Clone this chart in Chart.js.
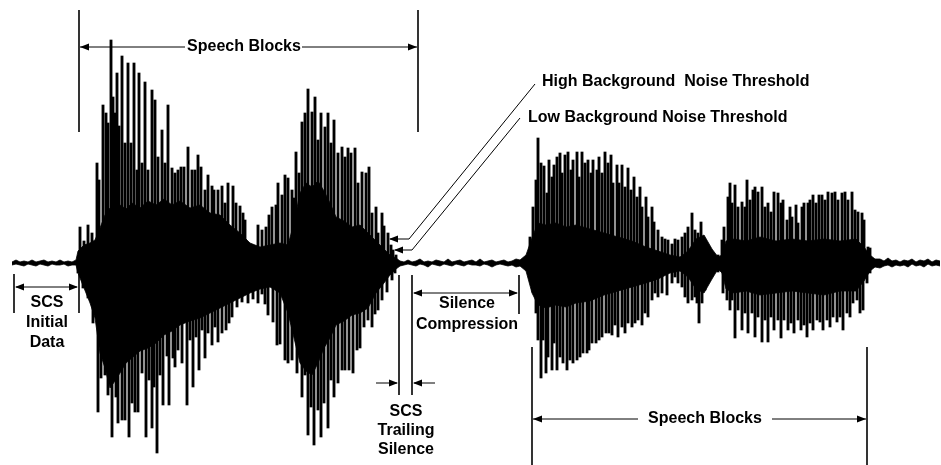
<!DOCTYPE html>
<html lang="en">
<head>
  <meta charset="UTF-8">
  <title>Speech Blocks and Silence Compression</title>
  <script src="https://cdn.jsdelivr.net/npm/chart.js"></script>
  <style>
    html,body{width:941px;height:465px;margin:0;padding:0;overflow:hidden;background:#fff}
    #wrap{width:941px;height:465px;position:relative}
  </style>
</head>
<body>
<div id="wrap"><canvas id="wave" width="941" height="465"></canvas></div>
<script>
// amplitudes are measured up from the zero line of the waveform
const BASE = 263;

// upward peaks of the first speech burst [position, amplitude]
const upLeft = [[80,36],[84,22],[88,38],[92,30],[97,100],[99,83],[103,158],[106,150],[108,140],[111,223],[113,166],[115,150],[117,190],[119,137],[122,207],[125,120],[128,200],[131,120],[134,200],[137,93],[139,190],[142,100],[145,181],[148,93],[152,173],[155,163],[158,106],[162,133],[165,100],[168,158],[172,95],[175,90],[178,93],[181,96],[184,96],[188,116],[192,93],[195,93],[198,108],[201,96],[205,73],[208,88],[212,77],[214,73],[218,73],[222,77],[225,60],[228,80],[233,77],[236,60],[240,57],[243,50],[245,43],[248,20],[252,18],[255,17],[258,38],[262,33],[266,36],[269,48],[272,56],[276,58],[278,80],[282,68],[285,88],[288,85],[292,73],[294,65],[296,111],[299,90],[302,141],[305,150],[308,174],[312,151],[315,166],[318,123],[321,150],[325,136],[328,150],[331,120],[334,143],[338,110],[342,116],[345,106],[348,115],[351,110],[355,115],[358,80],[362,91],[366,90],[369,96],[372,50],[376,56],[378,30],[382,50],[384,37],[388,30],[391,18],[393,13],[396,8]];
// downward peaks of the first speech burst
const downLeft = [[78,-10],[83,-25],[88,-35],[93,-60],[98,-149],[101,-115],[105,-112],[108,-132],[112,-174],[116,-134],[118,-160],[122,-157],[125,-157],[129,-174],[132,-140],[135,-149],[138,-149],[142,-110],[146,-174],[149,-117],[152,-165],[154,-124],[157,-190],[160,-112],[163,-142],[167,-93],[169,-142],[173,-95],[175,-104],[178,-87],[182,-100],[187,-142],[190,-77],[193,-124],[196,-74],[199,-107],[202,-67],[205,-95],[208,-70],[212,-82],[215,-64],[218,-79],[222,-70],[226,-67],[229,-60],[232,-54],[237,-44],[242,-39],[246,-31],[248,-40],[253,-36],[258,-40],[262,-31],[265,-41],[268,-52],[273,-59],[277,-82],[280,-81],[285,-97],[288,-100],[292,-97],[297,-110],[302,-134],[305,-112],[308,-172],[311,-144],[314,-182],[318,-147],[321,-174],[324,-140],[328,-165],[331,-117],[334,-134],[338,-120],[342,-107],[345,-107],[349,-107],[353,-110],[357,-87],[360,-85],[364,-64],[368,-57],[372,-64],[375,-51],[378,-47],[382,-37],[387,-29],[392,-17],[395,-10]];
// upward peaks of the second speech burst
const upRight = [[530,26],[533,56],[536,83],[538,125],[541,100],[544,97],[547,70],[549,103],[552,86],[554,98],[557,106],[560,110],[562,90],[565,108],[568,111],[571,93],[573,103],[577,111],[579,86],[582,111],[585,100],[588,103],[591,90],[593,103],[597,93],[599,106],[602,90],[605,111],[608,100],[611,108],[613,80],[617,98],[619,80],[622,98],[625,76],[628,95],[631,73],[634,86],[637,66],[640,76],[642,56],[646,66],[648,46],[652,56],[654,41],[658,33],[662,26],[665,24],[668,23],[672,19],[675,24],[678,23],[682,26],[685,30],[688,36],[692,50],[695,33],[698,30],[701,41],[704,23],[708,16],[713,10],[718,8],[722,23],[724,36],[728,66],[730,80],[732,60],[735,78],[738,56],[742,61],[745,56],[747,83],[750,63],[753,73],[755,76],[758,71],[762,76],[765,56],[768,60],[771,51],[774,71],[778,70],[781,60],[783,63],[787,43],[790,56],[792,46],[796,58],[798,40],[802,56],[804,60],[808,60],[810,63],[813,68],[816,60],[819,68],[822,68],[825,63],[828,71],[832,70],[835,71],[838,63],[842,70],[845,71],[848,63],[852,71],[855,53],[858,51],[862,50],[864,43],[868,16],[870,15]];
// downward peaks of the second speech burst
const downRight = [[530,-7],[533,-29],[536,-50],[538,-77],[541,-115],[543,-77],[546,-110],[548,-94],[552,-107],[554,-80],[557,-107],[560,-94],[563,-100],[567,-107],[570,-97],[573,-100],[577,-97],[580,-94],[583,-90],[587,-90],[589,-87],[592,-80],[596,-80],[599,-77],[602,-74],[606,-70],[609,-70],[612,-72],[615,-62],[618,-74],[622,-64],[625,-70],[628,-60],[632,-64],[635,-60],[638,-57],[642,-62],[645,-50],[648,-54],[652,-37],[655,-30],[658,-34],[662,-30],[667,-32],[672,-20],[675,-14],[678,-20],[682,-24],[685,-34],[688,-40],[692,-37],[695,-34],[697,-40],[699,-60],[702,-40],[705,-27],[708,-14],[713,-10],[718,-9],[723,-30],[727,-37],[730,-47],[732,-37],[735,-75],[738,-47],[742,-67],[745,-50],[748,-70],[752,-50],[755,-74],[758,-54],[762,-79],[765,-57],[768,-79],[771,-54],[774,-67],[778,-57],[781,-75],[784,-57],[788,-67],[791,-60],[794,-70],[798,-57],[801,-67],[804,-62],[807,-74],[810,-60],[813,-67],[817,-57],[820,-59],[823,-67],[827,-57],[830,-64],[833,-54],[837,-59],[840,-54],[843,-67],[847,-50],[850,-54],[853,-40],[857,-37],[860,-50],[863,-47],[867,-20],[870,-10]];

// dense inner part of the signal, segment by segment [position, top, bottom]
const noiseStart = [[12,1,-2],[16,3,-1],[20,1,-2],[24,2,-3],[28,1,-1],[32,3,-2],[36,1,-3],[40,2,-1],[44,3,-2],[48,1,-3],[52,2,-1],[56,1,-2],[60,3,-2],[64,1,-1],[68,2,-3],[72,1,-2],[76,3,-2]];
const coreLeft = [[78,12,-10],[84,18,-25],[90,20,-40],[95,23,-55],[100,35,-90],[105,48,-105],[110,55,-125],[115,52,-118],[120,58,-110],[126,54,-100],[132,60,-95],[140,55,-88],[148,62,-85],[156,58,-80],[164,64,-72],[172,58,-68],[180,62,-62],[190,55,-58],[200,58,-55],[210,50,-50],[220,48,-45],[230,38,-40],[240,30,-35],[250,20,-30],[260,16,-26],[270,18,-24],[280,20,-30],[288,18,-50],[294,40,-75],[300,70,-100],[306,80,-108],[312,76,-112],[318,82,-100],[324,72,-85],[330,60,-75],[336,46,-62],[344,42,-58],[352,36,-52],[360,38,-50],[368,30,-45],[376,22,-30],[384,14,-20],[390,8,-12],[396,5,-6]];
const noiseMid = [[400,2,-3],[404,1,-2],[408,3,-1],[412,1,-2],[416,2,-3],[420,4,-1],[424,1,-2],[428,2,-4],[432,1,-1],[436,3,-2],[440,2,-3],[444,1,-1],[448,4,-2],[452,1,-3],[456,2,-1],[460,3,-2],[464,1,-3],[468,2,-1],[472,3,-2],[476,1,-2],[480,4,-3],[484,1,-1],[488,2,-2],[492,3,-4],[496,1,-2],[500,2,-1],[504,3,-2],[508,1,-3],[512,2,-2],[516,4,-4]];
const coreRight = [[520,3,-3],[526,8,-8],[532,25,-30],[538,40,-42],[546,38,-45],[556,40,-42],[566,36,-44],[576,38,-40],[590,34,-38],[604,30,-32],[618,26,-28],[632,22,-24],[646,16,-20],[658,12,-16],[670,8,-10],[680,6,-8],[688,12,-14],[696,24,-26],[704,28,-30],[712,14,-16],[718,6,-6],[722,8,-10],[726,22,-26],[734,24,-30],[746,22,-28],[760,26,-32],[776,22,-30],[792,24,-28],[808,22,-30],[824,24,-32],[840,22,-28],[856,24,-28],[864,16,-18],[870,8,-8],[875,4,-4]];
const noiseEnd = [[880,4,-5],[884,2,-3],[888,5,-2],[892,2,-4],[896,3,-2],[900,1,-3],[904,3,-2],[908,2,-4],[912,4,-1],[916,1,-3],[920,3,-2],[924,2,-4],[928,4,-1],[932,1,-3],[936,3,-2],[940,2,-3]];

const core = noiseStart.concat(coreLeft, noiseMid, coreRight, noiseEnd);
const pt = arr => arr.map(([x, v]) => ({x: x, y: [0, v]}));

// bracket, arrow and label drawing
const labels = {
  id: 'labels',
  afterDatasetsDraw(chart) {
    const {ctx, scales: {x, y}} = chart;
    const X = v => x.getPixelForValue(v);
    const Y = v => y.getPixelForValue(BASE - v);
    ctx.save();
    ctx.strokeStyle = '#000';
    ctx.fillStyle = '#000';
    const line = (pts, w) => {
      ctx.lineWidth = w || 1;
      ctx.beginPath();
      pts.forEach(([a, b], i) => i ? ctx.lineTo(X(a), Y(b)) : ctx.moveTo(X(a), Y(b)));
      ctx.stroke();
    };
    const head = (a, b, dir) => { // dir 1 = pointing right, -1 = left
      ctx.beginPath();
      ctx.moveTo(X(a), Y(b));
      ctx.lineTo(X(a) - dir * 9, Y(b) - 3.5);
      ctx.lineTo(X(a) - dir * 9, Y(b) + 3.5);
      ctx.closePath();
      ctx.fill();
    };
    const text = (s, a, b, align) => {
      ctx.textAlign = align || 'center';
      ctx.textBaseline = 'middle';
      ctx.fillText(s, X(a), Y(b));
    };
    ctx.font = 'bold 16px "Liberation Sans", Arial, sans-serif';

    // top speech blocks
    line([[79, 10], [79, 132]], 1.6);
    line([[418, 10], [418, 132]], 1.6);
    line([[80, 47], [185, 47]]);
    line([[302, 47], [417, 47]]);
    head(80, 47, -1); head(417, 47, 1);
    text('Speech Blocks', 244, 47);

    // noise thresholds
    line([[535, 84], [409, 239], [390, 239]]);
    head(389, 239, -1);
    line([[520, 118], [412, 250], [395, 250]]);
    head(394, 250, -1);
    text('High Background  Noise Threshold', 542, 82, 'left');
    text('Low Background Noise Threshold', 528, 118, 'left');

    // SCS initial data
    line([[14, 274], [14, 313]], 1.6);
    line([[79, 274], [79, 313]], 1.6);
    line([[16, 287], [77, 287]]);
    head(15, 287, -1); head(78, 287, 1);
    text('SCS', 47, 303); text('Initial', 47, 323); text('Data', 47, 343);

    // silence compression
    line([[519, 275], [519, 314]], 1.6);
    line([[414, 293], [517, 293]]);
    head(413, 293, -1); head(518, 293, 1);
    text('Silence', 467, 304); text('Compression', 467, 325);

    // SCS trailing silence
    line([[399, 275], [399, 395]], 1.6);
    line([[412, 275], [412, 395]], 1.6);
    line([[376, 383], [397, 383]]); head(398, 383, 1);
    line([[414, 383], [435, 383]]); head(413, 383, -1);
    text('SCS', 406, 412); text('Trailing', 406, 431); text('Silence', 406, 450);

    // bottom speech blocks
    line([[532, 347], [532, 465]], 1.6);
    line([[867, 347], [867, 465]], 1.6);
    line([[533, 419], [638, 419]]);
    line([[772, 419], [866, 419]]);
    head(533, 419, -1); head(866, 419, 1);
    text('Speech Blocks', 705, 419);
    ctx.restore();
  }
};

const barStyle = {type: 'bar', backgroundColor: '#000', barThickness: 2.2, grouped: false};

new Chart(document.getElementById('wave').getContext('2d'), {
  data: {
    datasets: [
      {type: 'line', data: core.map(c => ({x: c[0], y: c[1]})), borderColor: '#000', backgroundColor: '#000', borderWidth: 0.8, pointRadius: 0, tension: 0, fill: '+1'},
      {type: 'line', data: core.map(c => ({x: c[0], y: c[2]})), borderColor: '#000', borderWidth: 0.8, pointRadius: 0, tension: 0, fill: false},
      Object.assign({data: pt(upLeft)}, barStyle),
      Object.assign({data: pt(downLeft)}, barStyle),
      Object.assign({data: pt(upRight)}, barStyle),
      Object.assign({data: pt(downRight)}, barStyle)
    ]
  },
  options: {
    responsive: false,
    animation: false,
    layout: {padding: 0},
    plugins: {legend: {display: false}, tooltip: {enabled: false}},
    scales: {
      x: {type: 'linear', min: 0, max: 941, offset: false, display: false},
      y: {min: BASE - 465, max: BASE, display: false}
    }
  },
  plugins: [labels]
});
</script>
</body>
</html>
